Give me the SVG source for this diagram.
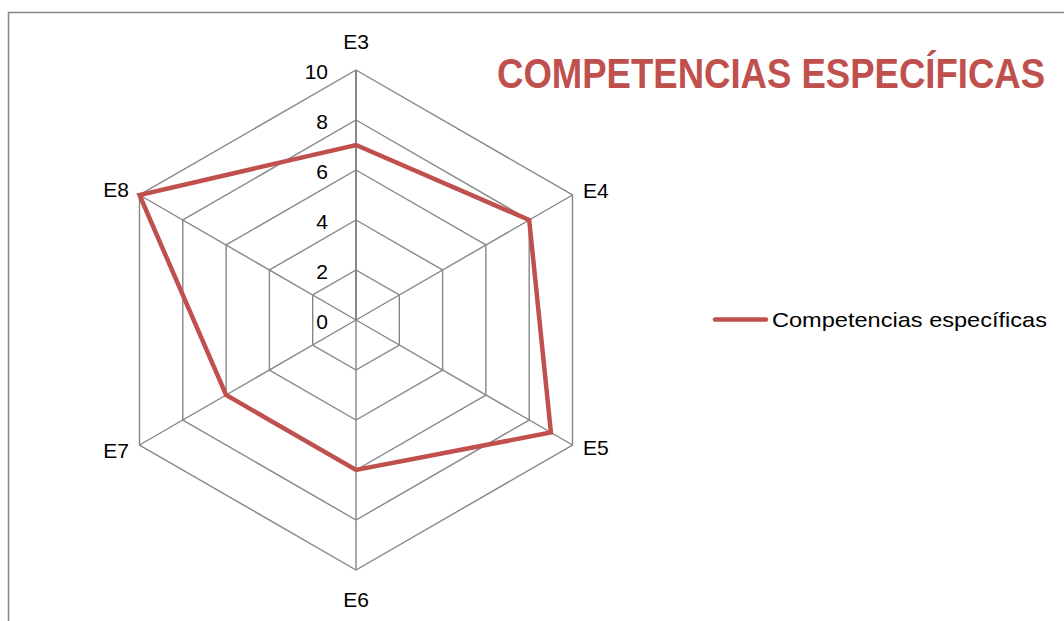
<svg xmlns="http://www.w3.org/2000/svg" width="1064" height="621" viewBox="0 0 1064 621">
<style>
.grid{fill:none;stroke:#868686;stroke-width:1.4}
.lbl{font-family:"Liberation Sans",Arial,sans-serif;font-size:21px;fill:#000}
.tick{font-family:"Liberation Sans",Arial,sans-serif;font-size:21px;fill:#000;text-anchor:end}
.series{fill:none;stroke:#c0504d;stroke-width:4.5;stroke-linejoin:miter}
</style>
<rect x="0" y="0" width="1064" height="621" fill="#fff"/>
<path d="M8.5,621 V12.5 H1064" fill="none" stroke="#868686" stroke-width="1.5"/>
<g id="grid">
<polygon class="grid" points="356,270 399.3,295 399.3,345 356,370 312.7,345 312.7,295"/>
<polygon class="grid" points="356,220 442.6,270 442.6,370 356,420 269.4,370 269.4,270"/>
<polygon class="grid" points="356,170 485.9,245 485.9,395 356,470 226.1,395 226.1,245"/>
<polygon class="grid" points="356,120 529.2,220 529.2,420 356,520 182.8,420 182.8,220"/>
<polygon class="grid" points="356,70 572.5,195 572.5,445 356,570 139.5,445 139.5,195"/>
<path class="grid" d="M356,320 L572.5,195 M356,320 L572.5,445 M356,320 L356,570 M356,320 L139.5,445 M356,320 L139.5,195"/>
<path d="M356,320 V70" fill="none" stroke="#868686" stroke-width="2"/>
</g>
<g id="ticks">
<text class="tick" x="328" y="79">10</text>
<text class="tick" x="328" y="129">8</text>
<text class="tick" x="328" y="179">6</text>
<text class="tick" x="328" y="229">4</text>
<text class="tick" x="328" y="279">2</text>
<text class="tick" x="328" y="329">0</text>
</g>
<g id="connectors">
<polygon class="series" points="356,145 529.2,220 550.9,432.5 356,470 226.1,395 139.5,195"/>
</g>
<g id="E3"><text class="lbl" x="356" y="49" text-anchor="middle">E3</text></g>
<g id="E4"><text class="lbl" x="583" y="198">E4</text></g>
<g id="E5"><text class="lbl" x="583" y="455">E5</text></g>
<g id="E6"><text class="lbl" x="356" y="607" text-anchor="middle">E6</text></g>
<g id="E7"><text class="lbl" x="129" y="458" text-anchor="end">E7</text></g>
<g id="E8"><text class="lbl" x="129" y="197" text-anchor="end">E8</text></g>
<g id="title" transform="translate(497,88) scale(0.85,1)"><text x="0" y="0" font-family="'Liberation Sans',Arial,sans-serif" font-size="43" font-weight="bold" fill="#c0504d">COMPETENCIAS ESPECÍFICAS</text></g>
<g id="legend">
<line x1="715" y1="319.5" x2="766" y2="319.5" stroke="#c0504d" stroke-width="4.5" stroke-linecap="round"/>
<text class="lbl" x="772" y="327" textLength="275" lengthAdjust="spacingAndGlyphs">Competencias específicas</text>
</g>
</svg>
